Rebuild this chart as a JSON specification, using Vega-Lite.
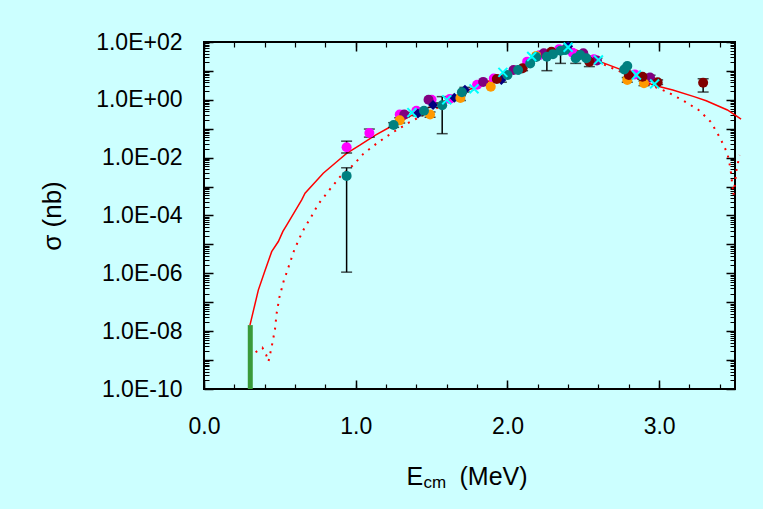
{
  "$schema": "https://vega.github.io/schema/vega-lite/v6.json",
  "width": 531,
  "height": 347,
  "autosize": {"type": "none"},
  "padding": {"left": 204, "top": 42, "right": 28, "bottom": 120},
  "background": "#ccffff",
  "config": {
    "view": {"stroke": "black", "strokeWidth": 2},
    "axis": {"domain": false, "grid": false, "labelFlush": false, "labelFont": "Liberation Sans", "titleFont": "Liberation Sans", "labelColor": "black", "titleColor": "black", "titleFontWeight": "normal"}
  },
  "datasets": {
    "bar": [{"E": 0.305, "lo": 1e-10, "hi": 1.62e-8}],
    "solid": [
      {"E": 0.303, "sigma": 1.62e-8}, {"E": 0.358, "sigma": 2.63e-7}, {"E": 0.40, "sigma": 1.15e-6},
      {"E": 0.446, "sigma": 5.62e-6}, {"E": 0.49, "sigma": 1.26e-5}, {"E": 0.52, "sigma": 2.82e-5},
      {"E": 0.545, "sigma": 4.68e-5}, {"E": 0.60, "sigma": 1.41e-4}, {"E": 0.644, "sigma": 3.47e-4},
      {"E": 0.666, "sigma": 5.89e-4}, {"E": 0.786, "sigma": 2.88e-3}, {"E": 0.875, "sigma": 7.24e-3},
      {"E": 0.94, "sigma": 0.0141}, {"E": 1.03, "sigma": 0.0275}, {"E": 1.13, "sigma": 0.0603},
      {"E": 1.25, "sigma": 0.135}, {"E": 1.40, "sigma": 0.355}, {"E": 1.60, "sigma": 1.0},
      {"E": 1.80, "sigma": 3.02}, {"E": 2.00, "sigma": 8.32}, {"E": 2.20, "sigma": 28.2},
      {"E": 2.40, "sigma": 63.1}, {"E": 2.50, "sigma": 44.7}, {"E": 2.61, "sigma": 20.9},
      {"E": 2.74, "sigma": 11.5}, {"E": 2.96, "sigma": 3.24}, {"E": 3.09, "sigma": 2.19},
      {"E": 3.23, "sigma": 1.29}, {"E": 3.31, "sigma": 0.933}, {"E": 3.45, "sigma": 0.447},
      {"E": 3.54, "sigma": 0.214}
    ],
    "dotted": [
      {"E": 0.34, "sigma": 1.86e-9}, {"E": 0.385, "sigma": 2.69e-9}, {"E": 0.41, "sigma": 1.51e-9},
      {"E": 0.425, "sigma": 8.91e-10}, {"E": 0.446, "sigma": 2.88e-9}, {"E": 0.468, "sigma": 1.17e-8},
      {"E": 0.479, "sigma": 4.17e-8}, {"E": 0.497, "sigma": 1.48e-7}, {"E": 0.525, "sigma": 5.37e-7},
      {"E": 0.558, "sigma": 1.70e-6}, {"E": 0.595, "sigma": 6.46e-6}, {"E": 0.641, "sigma": 2.24e-5},
      {"E": 0.666, "sigma": 4.07e-5}, {"E": 0.699, "sigma": 7.59e-5}, {"E": 0.725, "sigma": 1.35e-4},
      {"E": 0.754, "sigma": 2.51e-4}, {"E": 0.826, "sigma": 7.59e-4}, {"E": 0.897, "sigma": 2.19e-3},
      {"E": 0.984, "sigma": 5.62e-3}, {"E": 1.05, "sigma": 0.0135}, {"E": 1.14, "sigma": 0.0316},
      {"E": 1.24, "sigma": 0.0724}, {"E": 1.35, "sigma": 0.162}, {"E": 1.60, "sigma": 0.794},
      {"E": 1.80, "sigma": 2.63}, {"E": 2.00, "sigma": 7.59}, {"E": 2.20, "sigma": 25.1},
      {"E": 2.40, "sigma": 57.5}, {"E": 2.60, "sigma": 20.0}, {"E": 2.80, "sigma": 7.08},
      {"E": 2.94, "sigma": 3.24}, {"E": 3.05, "sigma": 1.91}, {"E": 3.16, "sigma": 0.933},
      {"E": 3.26, "sigma": 0.447}, {"E": 3.34, "sigma": 0.174}, {"E": 3.40, "sigma": 0.0501},
      {"E": 3.45, "sigma": 0.0141}, {"E": 3.47, "sigma": 4.27e-3}, {"E": 3.49, "sigma": 5.13e-4},
      {"E": 3.51, "sigma": 3.72e-3}, {"E": 3.53, "sigma": 0.0123}
    ],
    "pts": [
      {"E": 0.94, "sigma": 0.0229, "lo": 0.0145, "hi": 0.0372, "src": "s1"},
      {"E": 1.09, "sigma": 0.0708, "lo": 0.0513, "hi": 0.0977, "src": "s1"},
      {"E": 1.29, "sigma": 0.309, "src": "s1"},
      {"E": 1.40, "sigma": 0.417, "src": "s1"},
      {"E": 1.50, "sigma": 1.0, "src": "s1"},
      {"E": 1.62, "sigma": 1.07, "src": "s1"},
      {"E": 1.80, "sigma": 3.31, "src": "s1"},
      {"E": 1.91, "sigma": 5.50, "src": "s1"},
      {"E": 2.13, "sigma": 20.9, "src": "s1"},
      {"E": 2.21, "sigma": 34.7, "src": "s1"},
      {"E": 2.34, "sigma": 56.2, "src": "s1"},
      {"E": 2.43, "sigma": 42.7, "src": "s1"},
      {"E": 2.57, "sigma": 25.1, "lo": 20.9, "hi": 30.2, "src": "s1"},
      {"E": 2.84, "sigma": 7.59, "src": "s1"},
      {"E": 1.32, "sigma": 0.309, "lo": 0.26, "hi": 0.37, "src": "s2"},
      {"E": 1.48, "sigma": 1.0, "src": "s2"},
      {"E": 1.84, "sigma": 4.17, "src": "s2"},
      {"E": 2.04, "sigma": 10.7, "src": "s2"},
      {"E": 2.24, "sigma": 40.7, "src": "s2"},
      {"E": 2.39, "sigma": 60.3, "src": "s2"},
      {"E": 2.50, "sigma": 40.7, "src": "s2"},
      {"E": 2.59, "sigma": 22.9, "lo": 19.1, "hi": 27.5, "src": "s2"},
      {"E": 2.94, "sigma": 5.89, "lo": 4.9, "hi": 7.1, "src": "s2"},
      {"E": 1.41, "sigma": 0.339, "lo": 0.28, "hi": 0.41, "src": "s3"},
      {"E": 1.51, "sigma": 0.661, "lo": 0.55, "hi": 0.79, "src": "s3"},
      {"E": 1.65, "sigma": 1.17, "src": "s3"},
      {"E": 1.72, "sigma": 2.24, "lo": 1.86, "hi": 2.69, "src": "s3"},
      {"E": 1.96, "sigma": 4.90, "lo": 4.07, "hi": 5.89, "src": "s3"},
      {"E": 2.08, "sigma": 11.2, "src": "s3"},
      {"E": 2.40, "sigma": 70.8, "src": "s3"},
      {"E": 1.29, "sigma": 0.195, "lo": 0.158, "hi": 0.24, "src": "s5"},
      {"E": 1.49, "sigma": 0.309, "lo": 0.25, "hi": 0.38, "src": "s5"},
      {"E": 1.69, "sigma": 1.15, "lo": 0.95, "hi": 1.38, "src": "s5"},
      {"E": 1.89, "sigma": 2.82, "src": "s5"},
      {"E": 2.19, "sigma": 33.1, "src": "s5"},
      {"E": 2.79, "sigma": 4.90, "lo": 4.07, "hi": 5.89, "src": "s5"},
      {"E": 2.90, "sigma": 3.72, "lo": 3.1, "hi": 4.47, "src": "s5"},
      {"E": 1.93, "sigma": 5.25, "src": "s6"},
      {"E": 2.10, "sigma": 12.3, "lo": 10.2, "hi": 14.8, "src": "s6"},
      {"E": 2.29, "sigma": 45.7, "src": "s6"},
      {"E": 2.54, "sigma": 20.9, "lo": 14.1, "hi": 24.0, "src": "s6"},
      {"E": 2.80, "sigma": 7.24, "lo": 6.0, "hi": 8.7, "src": "s6"},
      {"E": 2.89, "sigma": 6.31, "lo": 5.25, "hi": 7.6, "src": "s6"},
      {"E": 2.99, "sigma": 4.07, "lo": 3.4, "hi": 4.9, "src": "s6"},
      {"E": 3.29, "sigma": 3.89, "lo": 1.86, "hi": 5.37, "src": "s6"},
      {"E": 0.94, "sigma": 0.00234, "lo": 1.10e-6, "hi": 0.00447, "src": "s4"},
      {"E": 1.25, "sigma": 0.135, "lo": 0.112, "hi": 0.162, "src": "s4"},
      {"E": 1.45, "sigma": 0.417, "src": "s4"},
      {"E": 1.57, "sigma": 0.646, "lo": 0.0676, "hi": 1.29, "src": "s4"},
      {"E": 1.70, "sigma": 1.82, "src": "s4"},
      {"E": 2.00, "sigma": 7.24, "src": "s4"},
      {"E": 2.07, "sigma": 10.7, "lo": 8.9, "hi": 12.9, "src": "s4"},
      {"E": 2.15, "sigma": 18.2, "src": "s4"},
      {"E": 2.19, "sigma": 30.2, "src": "s4"},
      {"E": 2.26, "sigma": 30.9, "lo": 10.2, "hi": 37.0, "src": "s4"},
      {"E": 2.30, "sigma": 38.0, "src": "s4"},
      {"E": 2.35, "sigma": 50.1, "lo": 18.2, "hi": 60.0, "src": "s4"},
      {"E": 2.38, "sigma": 52.5, "src": "s4"},
      {"E": 2.45, "sigma": 27.5, "lo": 18.2, "hi": 33.0, "src": "s4"},
      {"E": 2.48, "sigma": 35.5, "src": "s4"},
      {"E": 2.52, "sigma": 27.5, "src": "s4"},
      {"E": 2.77, "sigma": 11.2, "src": "s4"},
      {"E": 2.79, "sigma": 14.8, "src": "s4"},
      {"E": 1.37, "sigma": 0.363, "src": "s7"},
      {"E": 1.60, "sigma": 1.0, "src": "s7"},
      {"E": 1.78, "sigma": 2.40, "src": "s7"},
      {"E": 1.97, "sigma": 8.91, "src": "s7"},
      {"E": 2.16, "sigma": 31.6, "src": "s7"},
      {"E": 2.40, "sigma": 66.1, "src": "s7"},
      {"E": 2.60, "sigma": 24.0, "src": "s7"},
      {"E": 2.85, "sigma": 7.24, "src": "s7"},
      {"E": 2.97, "sigma": 3.55, "src": "s7"}
    ]
  },
  "layer": [
    {
      "data": {"name": "bar"},
      "mark": {"type": "rule", "strokeWidth": 5, "color": "#3a9a3a"},
      "encoding": {
        "x": {"field": "E", "type": "quantitative", "scale": {"domain": [0, 3.5], "nice": false, "zero": false},
          "axis": {"orient": "bottom", "values": [0, 1, 2, 3], "format": ".1f", "ticks": false, "tickSize": 0, "labelPadding": 26, "labelBaseline": "top", "labelFontSize": 23,
            "title": "E", "titleFontSize": 25, "titleAlign": "left", "titleBaseline": "alphabetic", "titleX": 202, "titleY": 95, "titleAngle": 0}},
        "y": {"field": "lo", "type": "quantitative", "scale": {"type": "log", "domain": [1e-10, 100], "nice": false},
          "axis": {"orient": "left", "values": [1e-10, 1e-8, 1e-6, 1e-4, 1e-2, 1, 100], "ticks": false, "tickSize": 0, "labelPadding": 22, "labelFontSize": 23,
            "labelExpr": "'1.0E' + (round(log(datum.value)/LN10) < 0 ? '-' : '+') + (abs(round(log(datum.value)/LN10)) < 10 ? '0' : '') + abs(round(log(datum.value)/LN10))",
            "title": "σ (nb)", "titleFontSize": 26, "titleAngle": -90, "titleX": -152, "titleY": 173.5, "titleAlign": "center", "titleBaseline": "middle"}},
        "y2": {"field": "hi"}
      }
    },
    {
      "data": {"name": "solid"},
      "mark": {"type": "line", "color": "#ff0000", "strokeWidth": 1.5},
      "encoding": {
        "x": {"field": "E", "type": "quantitative", "scale": {"domain": [0, 3.5], "nice": false, "zero": false},
          "axis": {"orient": "bottom", "tickCount": 17, "labels": false, "ticks": false,
            "grid": true, "gridColor": "#000000", "gridWidth": 1.2, "gridDash": [5, 337],
            "title": "cm", "titleFontSize": 17, "titleAlign": "left", "titleBaseline": "alphabetic", "titleX": 219, "titleY": 98, "titleAngle": 0}},
        "y": {"field": "sigma", "type": "quantitative", "scale": {"type": "log", "domain": [1e-10, 100], "nice": false},
          "axis": {"orient": "left", "tickCount": 200, "labels": false, "ticks": false, "title": null,
            "grid": true, "gridColor": "#000000", "gridWidth": 1.2, "gridDash": [5, 521]}}
      }
    },
    {
      "data": {"name": "dotted"},
      "mark": {"type": "line", "color": "#ff0000", "strokeWidth": 2, "strokeDash": [2, 6]},
      "encoding": {
        "x": {"field": "E", "type": "quantitative", "scale": {"domain": [0, 3.5], "nice": false, "zero": false},
          "axis": {"orient": "bottom", "tickCount": 3, "labels": false, "ticks": false,
            "grid": true, "gridColor": "#000000", "gridWidth": 1.5, "gridDash": [9, 329],
            "title": "(MeV)", "titleFontSize": 25, "titleAlign": "left", "titleBaseline": "alphabetic", "titleX": 255, "titleY": 95, "titleAngle": 0}},
        "y": {"field": "sigma", "type": "quantitative", "scale": {"type": "log", "domain": [1e-10, 100], "nice": false},
          "axis": {"orient": "left", "tickCount": 12, "labels": false, "ticks": false, "title": null,
            "grid": true, "gridColor": "#000000", "gridWidth": 1.5, "gridDash": [9, 513]}}
      }
    },
    {
      "data": {"name": "pts"},
      "transform": [{"filter": "isValid(datum.lo)"}],
      "mark": {"type": "rule", "color": "black", "strokeWidth": 1.5},
      "encoding": {
        "x": {"field": "E", "type": "quantitative", "axis": null},
        "y": {"field": "lo", "type": "quantitative", "axis": null},
        "y2": {"field": "hi"}
      }
    },
    {
      "data": {"name": "pts"},
      "transform": [{"fold": ["lo", "hi"], "as": ["end", "val"]}, {"filter": "isValid(datum.val)"}],
      "mark": {"type": "tick", "orient": "horizontal", "color": "black", "size": 11, "thickness": 1.5},
      "encoding": {
        "x": {"field": "E", "type": "quantitative", "axis": null},
        "y": {"field": "val", "type": "quantitative", "axis": null}
      }
    },
    {
      "data": {"name": "pts"},
      "transform": [{"filter": "datum.src != 's7'"}],
      "mark": {"type": "point", "filled": true, "opacity": 1, "size": 100},
      "encoding": {
        "x": {"field": "E", "type": "quantitative", "axis": null},
        "y": {"field": "sigma", "type": "quantitative", "axis": null},
        "color": {"field": "src", "type": "nominal", "legend": null,
          "scale": {"domain": ["s1", "s2", "s3", "s4", "s5", "s6"], "range": ["#ff00ff", "#800080", "#000080", "#008080", "#ff9900", "#800000"]}},
        "shape": {"field": "src", "type": "nominal", "legend": null,
          "scale": {"domain": ["s1", "s2", "s3", "s4", "s5", "s6"], "range": ["circle", "circle", "diamond", "circle", "circle", "circle"]}}
      }
    },
    {
      "data": {"name": "pts"},
      "transform": [{"filter": "datum.src == 's7'"}],
      "mark": {"type": "point", "filled": false, "shape": "M-1,-1L1,1M-1,1L1,-1", "color": "#00ffff", "strokeWidth": 2, "opacity": 1, "size": 80},
      "encoding": {
        "x": {"field": "E", "type": "quantitative", "axis": null},
        "y": {"field": "sigma", "type": "quantitative", "axis": null}
      }
    }
  ],
  "resolve": {"axis": {"x": "independent", "y": "independent"}}
}
